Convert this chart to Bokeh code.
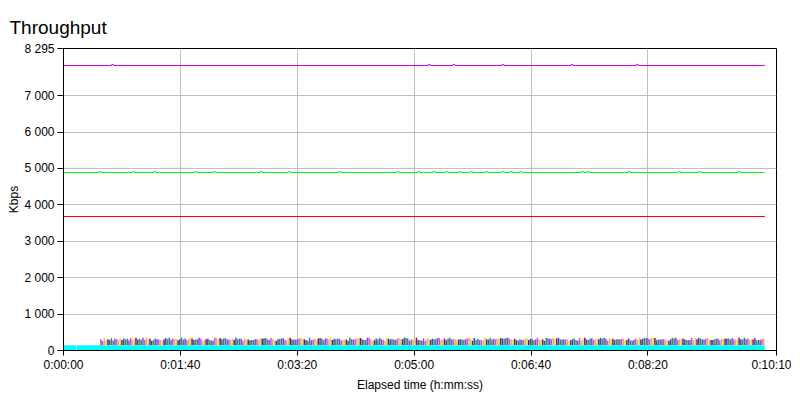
from bokeh.plotting import figure
from bokeh.models import FixedTicker, Range1d
from bokeh.embed import file_html
from bokeh.resources import INLINE

# ---- data ----
x_ticks = [0, 100, 200, 300, 400, 500, 610]
x_tick_labels = ["0:00:00", "0:01:40", "0:03:20", "0:05:00", "0:06:40", "0:08:20", "0:10:10"]
y_ticks = [0, 1000, 2000, 3000, 4000, 5000, 6000, 7000, 8295]
y_tick_labels = ["0", "1 000", "2 000", "3 000", "4 000", "5 000", "6 000", "7 000", "8 295"]

# flat streams (Kbps) over 0..600 s, with occasional 1px bumps
magenta_level = 7828
magenta_bumps = [42, 313, 334, 376, 435, 491]
green_level = 4889
green_bumps = [31, 60, 78, 113, 129, 169, 193, 236, 286, 304, 317, 328, 339, 349, 362,
               376, 383, 391, 444, 449, 484, 527, 544, 578]
bump_size = 30
red_level = 3680
stream_start = 0
stream_end = 600

# cyan low-rate stream (dense), segments with a short gap
cyan_left = [0, 11.4]
cyan_right = [10.6, 600]
cyan_level = [145, 145]

# spiky bursty streams: start time, sample step, heights (Kbps)
spike_colors = ["#9b30ff", "#e040e0", "#e8b040", "#b8e840", "#b00038", "#3040ff", "#20a030", "#208a8a"]
spike_starts = [32, 33.5, 35, 36.5, 38, 39.5, 41, 42.5]
spike_step = 12
s1 = [300,320,280,340,310,290,330,350,270,300,320,310,290,340,300,280,330,320,300,350,310,290,270,330,
      340,300,310,280,320,350,290,300,330,310,270,340,320,300,290,330,310,350,280,300,320,340,310,290]
s2 = [260,310,340,290,300,330,280,320,350,300,270,310,340,290,320,300,330,280,310,350,290,320,300,270,
      340,310,330,290,300,320,280,350,310,300,340,290,270,320,330,300,310,290,340,320,280,300,330,310]
s3 = [330,280,300,350,290,320,310,270,340,300,330,290,310,280,350,320,300,290,330,310,270,340,300,320,
      290,310,350,280,330,300,320,290,340,310,270,300,330,320,290,350,300,310,280,340,320,300,290,330]
s4 = [280,340,310,300,270,330,350,290,310,320,300,340,280,330,310,290,350,300,320,270,340,310,290,330,
      300,280,320,350,310,290,340,300,330,270,320,310,300,290,350,330,280,310,340,300,320,290,310,330]
s5 = [310,290,350,320,300,280,330,310,340,290,300,320,270,350,310,330,290,300,340,280,320,310,350,290,
      330,300,270,310,340,320,290,300,330,280,350,310,320,290,300,340,270,330,310,290,320,350,300,310]
s6 = [290,330,300,270,340,310,290,320,300,350,280,330,310,300,290,340,320,270,310,330,300,350,290,320,
      280,310,340,300,330,290,320,270,350,310,300,340,290,330,320,280,310,300,350,290,330,310,340,300]
s7 = [340,300,320,290,310,350,300,280,330,310,290,340,320,300,270,330,310,350,290,300,320,340,280,310,
      330,300,290,350,320,270,310,340,300,330,290,320,310,280,340,300,350,290,320,310,330,300,280,340]
s8 = [270,320,290,330,350,300,310,280,340,320,290,310,330,300,350,280,320,310,290,340,300,330,270,310,
      350,290,320,300,340,310,280,330,300,290,320,350,310,270,340,300,330,290,310,320,300,350,290,310]
spike_series = [s1, s2, s3, s4, s5, s6, s7, s8]

FONT = "Liberation Sans"

p = figure(frame_width=713, frame_height=302, output_backend="svg", toolbar_location=None,
           x_range=Range1d(0, 610), y_range=Range1d(0, 8295),
           min_border_left=63, min_border_right=15, min_border_top=48, min_border_bottom=40,
           title="Throughput")

p.title.text_font = FONT
p.title.text_font_size = "19px"
p.title.text_font_style = "normal"
p.title.text_color = "black"
p.title.align = "left"
p.title.offset = -54
p.title.standoff = 21

p.background_fill_color = "white"
p.border_fill_color = "white"
p.outline_line_color = "black"
p.outline_line_alpha = 1.0
p.outline_line_width = 1

for ax in (p.xaxis[0], p.yaxis[0]):
    ax.axis_line_color = "black"
    ax.axis_line_width = 1
    ax.major_tick_line_color = "black"
    ax.major_tick_in = 0
    ax.minor_tick_line_color = None
    ax.major_label_text_font = FONT
    ax.major_label_text_font_size = "12px"
    ax.major_label_text_color = "black"
    ax.axis_label_text_font = FONT
    ax.axis_label_text_font_size = "12px"
    ax.axis_label_text_font_style = "normal"
    ax.axis_label_text_color = "black"

p.xaxis.ticker = FixedTicker(ticks=x_ticks)
p.xaxis.major_label_overrides = dict(zip(x_ticks, x_tick_labels))
p.xaxis.axis_label = "Elapsed time (h:mm:ss)"
p.xaxis.major_tick_out = 5
p.xaxis.major_label_standoff = 2
p.xaxis.axis_label_standoff = 3

p.yaxis.ticker = FixedTicker(ticks=y_ticks)
p.yaxis.major_label_overrides = dict(zip(y_ticks, y_tick_labels))
p.yaxis.axis_label = "Kbps"
p.yaxis.major_tick_out = 6
p.yaxis.major_label_standoff = 3
p.yaxis.axis_label_standoff = 0

p.xgrid.grid_line_color = "#c0c0c0"
p.ygrid.grid_line_color = "#c0c0c0"
p.xgrid.grid_line_width = 1
p.ygrid.grid_line_width = 1

# spikes, rising above the cyan band
for color, start, vals in zip(spike_colors, spike_starts, spike_series):
    ts = [start + spike_step * i for i in range(len(vals))]
    keep = [(t, v) for t, v in zip(ts, vals) if t <= stream_end]
    xs = [k[0] for k in keep]
    p.segment(x0=xs, x1=xs, y0=[cyan_level[1]] * len(xs), y1=[k[1] for k in keep],
              line_color=color, line_width=1.5)

# cyan band, drawn last so it stays visible
p.quad(left=cyan_left, right=cyan_right, bottom=0, top=cyan_level,
       fill_color="#00ffff", line_color=None)


def bumped_line(level, bumps):
    xs, ys = [stream_start], [level]
    for b in sorted(bumps):
        xs += [b - 0.8, b - 0.8, b + 0.8, b + 0.8]
        ys += [level, level + bump_size, level + bump_size, level]
    xs.append(stream_end)
    ys.append(level)
    return xs, ys


mx, my = bumped_line(magenta_level, magenta_bumps)
p.line(mx, my, line_color="#e000e0", line_width=1)
gx, gy = bumped_line(green_level, green_bumps)
p.line(gx, gy, line_color="#00ff00", line_width=1)
p.line([stream_start, stream_end], [red_level, red_level], line_color="#ff0000", line_width=1)

open("out.html", "w").write(file_html(p, INLINE))
